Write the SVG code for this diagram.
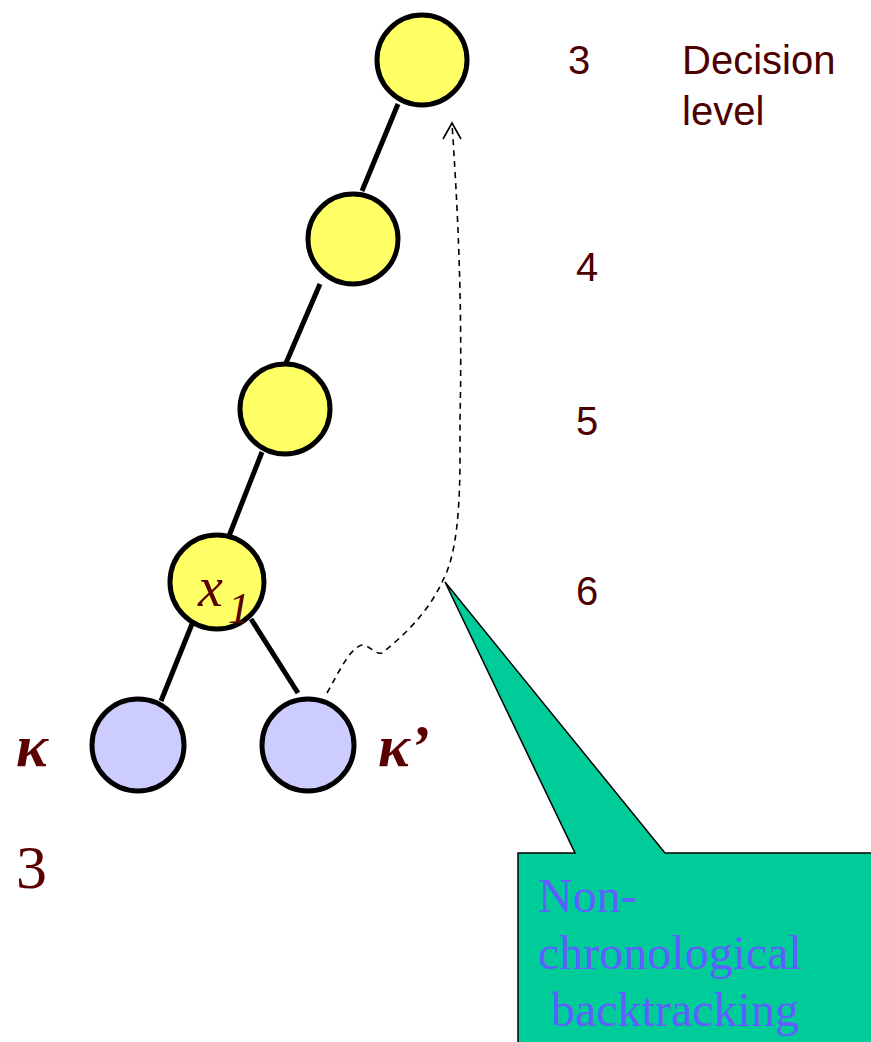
<svg xmlns="http://www.w3.org/2000/svg" width="871" height="1042" viewBox="0 0 871 1042">
<style>
.dec{fill:#FFFF66;stroke:#000;stroke-width:5}
.con{fill:#CCCCFF;stroke:#000;stroke-width:5}
.edge{stroke:#000;stroke-width:5;fill:none}
.lvl{font-family:"Liberation Sans",Arial,sans-serif;font-size:40px;fill:#4D0000}
.math{font-family:"Liberation Serif","Times New Roman",serif;font-style:italic;fill:#5A0000}
.call{font-family:"Liberation Serif","Times New Roman",serif;font-size:48px;fill:#5F5FFF}
.dash{fill:none;stroke:#000;stroke-width:1.6}
</style>
<g id="connectors">
<line class="edge" x1="398" y1="104" x2="362" y2="191"/>
<line class="edge" x1="320" y1="284" x2="286" y2="363"/>
<line class="edge" x1="262" y1="452" x2="229" y2="536"/>
<line class="edge" x1="192" y1="624" x2="161" y2="701"/>
<line class="edge" x1="251" y1="619" x2="298" y2="693"/>
<path class="dash" d="M327,693 C340,670 350,648 362,645 C370,645 375,655 382,653 C405,635 430,610 443,580 C462,545 460,470 460,420 C462,330 460,240 452,124" stroke-dasharray="6,5"/>
<path class="dash" d="M443,139 L452,123 L461,139"/>
</g>
<g id="callout">
<path d="M518,853 L575,853 L445,582 L665,853 L875,853 L875,1046 L518,1046 Z" fill="#00CC99" stroke="#000" stroke-width="1.5"/>
<text class="call" x="538" y="912">Non-</text>
<text class="call" x="538" y="969">chronological</text>
<text class="call" x="551" y="1026">backtracking</text>
</g>
<g id="n3"><circle class="dec" cx="422" cy="60" r="45"/></g>
<g id="n4"><circle class="dec" cx="353" cy="239" r="45"/></g>
<g id="n5"><circle class="dec" cx="285" cy="409" r="45"/></g>
<g id="n6"><circle class="dec" cx="217" cy="582" r="47"/>
<text class="math" x="198" y="606" font-size="56">x</text>
<text class="math" x="228" y="623" font-size="44">1</text></g>
<g id="kappa"><circle class="con" cx="138" cy="745" r="46"/>
<text class="math" x="16" y="766" font-size="60" font-weight="bold">κ</text></g>
<g id="kappa2"><circle class="con" cx="308" cy="745" r="46"/>
<text class="math" x="378" y="766" font-size="60" font-weight="bold">κ’</text></g>
<text class="math" x="16" y="888" font-size="62" style="font-style:normal">3</text>
<g id="levels">
<text class="lvl" x="568" y="74">3</text>
<text class="lvl" x="682" y="74">Decision</text>
<text class="lvl" x="682" y="125">level</text>
<text class="lvl" x="576" y="281">4</text>
<text class="lvl" x="576" y="435">5</text>
<text class="lvl" x="576" y="605">6</text>
</g>
</svg>
